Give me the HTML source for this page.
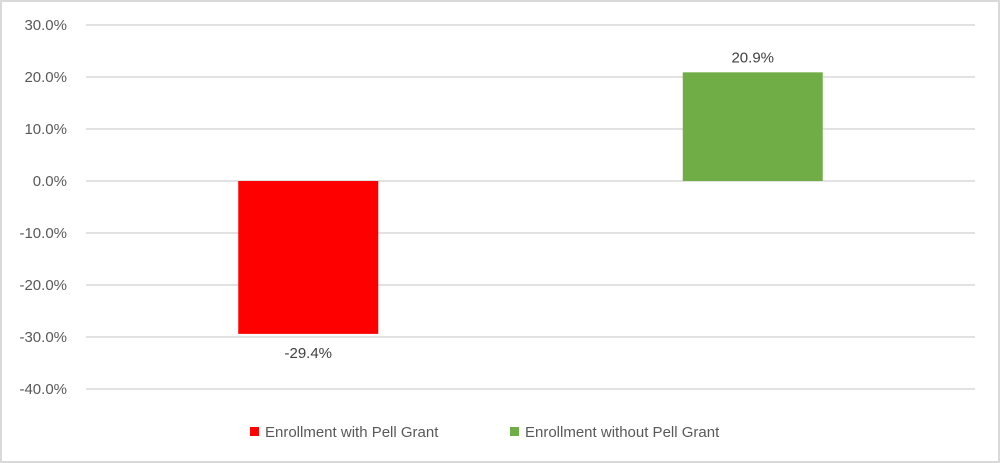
<!DOCTYPE html>
<html><head><meta charset="utf-8"><style>
body{margin:0;background:#fff}
svg{display:block;font-family:"Liberation Sans",sans-serif}
</style></head><body>
<svg width="1000" height="463" id="c">
<rect x="1" y="1" width="998" height="461" fill="#fff" stroke="#d9d9d9" stroke-width="2"/>
<g id="grid"></g><g id="bars"></g><g id="labels"></g>
<g>
<rect x="250" y="427" width="9" height="9" fill="#ff0000"/>
<text x="265" y="437" font-size="15" fill="#595959">Enrollment with Pell Grant</text>
<rect x="510" y="427" width="9" height="9" fill="#70ad47"/>
<text x="525" y="437" font-size="15" fill="#595959">Enrollment without Pell Grant</text>
</g>
</svg>
<script>
const categories=["Enrollment with Pell Grant","Enrollment without Pell Grant"];
const values=[-29.4,20.9];
const colors=["#ff0000","#70ad47"];
const ticks=[30,20,10,0,-10,-20,-30,-40];
const ns="http://www.w3.org/2000/svg";
const y=v=>181-v*5.2;
const x0=86,x1=975,band=(x1-x0)/categories.length,bw=140;
function mk(t,a,p){const e=document.createElementNS(ns,t);for(const k in a)e.setAttribute(k,a[k]);document.getElementById(p).appendChild(e);return e;}
ticks.forEach(t=>{
 const l=mk("line",{x1:x0,x2:x1,y1:y(t),y2:y(t),stroke:"#d9d9d9","stroke-width":1.5},"grid");
 
 
 const tx=mk("text",{x:67,y:y(t)+5,"text-anchor":"end","font-size":15,fill:"#595959"},"grid");
 tx.textContent=t.toFixed(1)+"%";
 
 
});
values.forEach((v,i)=>{
 const cx=x0+band*(i+0.5);
 const r=mk("rect",{x:cx-bw/2,y:Math.min(y(v),y(0)),width:bw,height:Math.abs(y(v)-y(0)),fill:colors[i]},"bars");
 
 
 const ly=v<0?y(v)+24:y(v)-10;
 const t=mk("text",{x:cx,y:ly,"text-anchor":"middle","font-size":15,fill:"#404040"},"labels");
 t.textContent=v.toFixed(1)+"%";
 
 
});
</script>
</body></html>
